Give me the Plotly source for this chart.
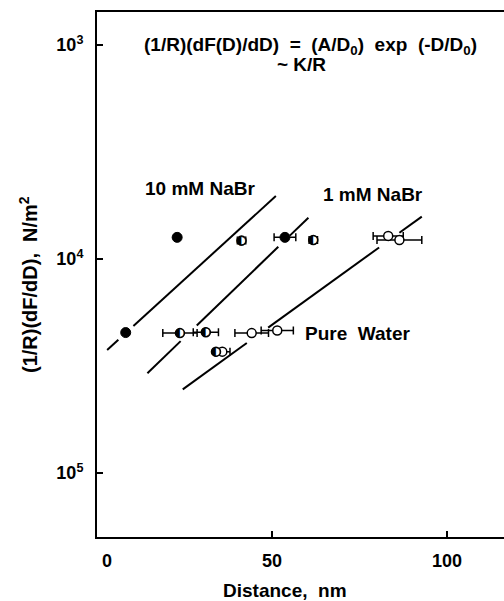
import plotly.graph_objects as go

# ---------------- data ----------------
# 10 mM NaBr (filled circles)
na10_x = [8.2, 22.9, 53.7]
na10_y = [22070, 7925, 7925]
na10_err = [0, 0, 3.1]

# 1 mM NaBr (half-filled circles)
na1_x = [23.7, 31.1, 34.0, 41.3, 61.8]
na1_y = [22200, 22000, 27100, 8200, 8150]
na1_err = [4.9, 3.6, 0, 1.2, 1.2]

# Pure water (open circles)
pw_x = [35.8, 44.2, 51.5, 83.2, 86.4]
pw_y = [27100, 22200, 21600, 7800, 8150]
pw_err = [2.2, 4.8, 4.6, 4.3, 6.4]

# fitted exponential lines: x from/to, log10(value) from/to, gaps (x intervals)
fit_x0 = [2.9, 14.4, 24.5]
fit_x1 = [51.1, 60.4, 92.8]
fit_l0 = [4.425, 4.534, 4.609]
fit_l1 = [3.706, 3.807, 3.802]
fit_gaps = [[(6.1, 10.4)], [(23.9, 28.5), (51.8, 55.1)], [(42.8, 48.9), (80.6, 86.4)]]

y_tickvals = [1e3, 1e4, 1e5]
y_ticktext = ["10<sup>3</sup>", "10<sup>4</sup>", "10<sup>5</sup>"]
x_tickvals = [0, 50, 100]
x_ticktext = ["&nbsp;&nbsp;&nbsp;&nbsp;0", "50", "100"]

FONT = "Liberation Sans, Arial, Helvetica, sans-serif"

fig = go.Figure()

# fitted lines with gaps around points
for x0, x1, l0, l1, gaps in zip(fit_x0, fit_x1, fit_l0, fit_l1, fit_gaps):
    slope = (l1 - l0) / (x1 - x0)
    f = lambda x: 10 ** (l0 + slope * (x - x0))
    xs, ys = [x0], [f(x0)]
    for g0, g1 in gaps:
        xs += [g0, None, g1]
        ys += [f(g0), None, f(g1)]
    xs.append(x1)
    ys.append(f(x1))
    fig.add_trace(go.Scatter(x=xs, y=ys, mode="lines",
                             line=dict(color="black", width=2),
                             connectgaps=False, hoverinfo="skip"))

def err(vals):
    return dict(type="data", array=vals, symmetric=True, color="black",
                thickness=1.5, width=4)

# open circles (pure water)
fig.add_trace(go.Scatter(x=pw_x, y=pw_y, mode="markers", error_x=err(pw_err),
                         marker=dict(symbol="circle", size=9, color="white",
                                     line=dict(color="black", width=1.5))))
# half-filled (1 mM)
fig.add_trace(go.Scatter(x=na1_x, y=na1_y, mode="markers", error_x=err(na1_err),
                         marker=dict(symbol="circle", size=9, color="white",
                                     line=dict(color="black", width=1.5))))
fig.add_trace(go.Scatter(x=na1_x, y=na1_y, mode="text", text=["◐"] * len(na1_x),
                         textposition="middle center",
                         textfont=dict(family="DejaVu Sans", size=12, color="black")))
# filled (10 mM)
fig.add_trace(go.Scatter(x=na10_x, y=na10_y, mode="markers", error_x=err(na10_err),
                         marker=dict(symbol="circle", size=10, color="black",
                                     line=dict(color="black", width=1))))

W, H = 504, 601
L, R, T, B = 97, 0, 12, 64
pw_ = W - L - R
ph_ = H - T - B

def px(xp, yp):
    return (xp - L) / pw_, (H - B - yp) / ph_

annos = []
def add_text(text, xp, yp, size, xanchor="center", angle=0):
    x, y = px(xp, yp)
    annos.append(dict(text=text, x=x, y=y, xref="paper", yref="paper",
                      xanchor=xanchor, yanchor="middle", showarrow=False,
                      textangle=angle,
                      font=dict(family=FONT, size=size, color="black")))

add_text("<b>(1/R)(dF(D)/dD)  =  (A/D<sub>0</sub>)  exp  (-D/D<sub>0</sub>)</b>", 310, 46, 19)
add_text("<b>~ K/R</b>", 301, 65, 19)
add_text("<b>10 mM NaBr</b>", 200, 188, 19)
add_text("<b>1 mM NaBr</b>", 373, 194, 19)
add_text("<b>Pure  Water</b>", 357, 333, 19)
add_text("<b>(1/R)(dF/dD),  N/m<sup>2</sup></b>", 28, 285, 20, angle=-90)
add_text("<b>Distance,  nm</b>", 285, 590, 19)

fig.update_layout(
    width=W, height=H,
    margin=dict(l=L, r=R, t=T, b=B, pad=0),
    paper_bgcolor="white", plot_bgcolor="white",
    showlegend=False,
    annotations=annos,
    font=dict(family=FONT, color="black"),
    xaxis=dict(range=[0, (W - L - R) / 3.5], tickvals=x_tickvals,
               ticktext=["<b>" + t + "</b>" for t in x_ticktext],
               ticks="inside", ticklen=6, tickwidth=1.5, tickcolor="black",
               showline=True, linecolor="black", linewidth=2, mirror=True,
               showgrid=False, zeroline=False, ticklabelstandoff=6,
               tickfont=dict(family=FONT, size=18, color="black")),
    yaxis=dict(type="log", range=[5.299, 2.846], tickvals=y_tickvals,
               ticktext=["<b>" + t + "</b>" for t in y_ticktext],
               ticks="inside", ticklen=6, tickwidth=1.5, tickcolor="black",
               showline=True, linecolor="black", linewidth=2,
               showgrid=False, zeroline=False, ticklabelstandoff=8,
               tickfont=dict(family=FONT, size=18, color="black")),
)

fig.write_html("out.html", config={"displayModeBar": False},
               post_script="document.body.style.margin='0';document.body.style.overflow='hidden';")
